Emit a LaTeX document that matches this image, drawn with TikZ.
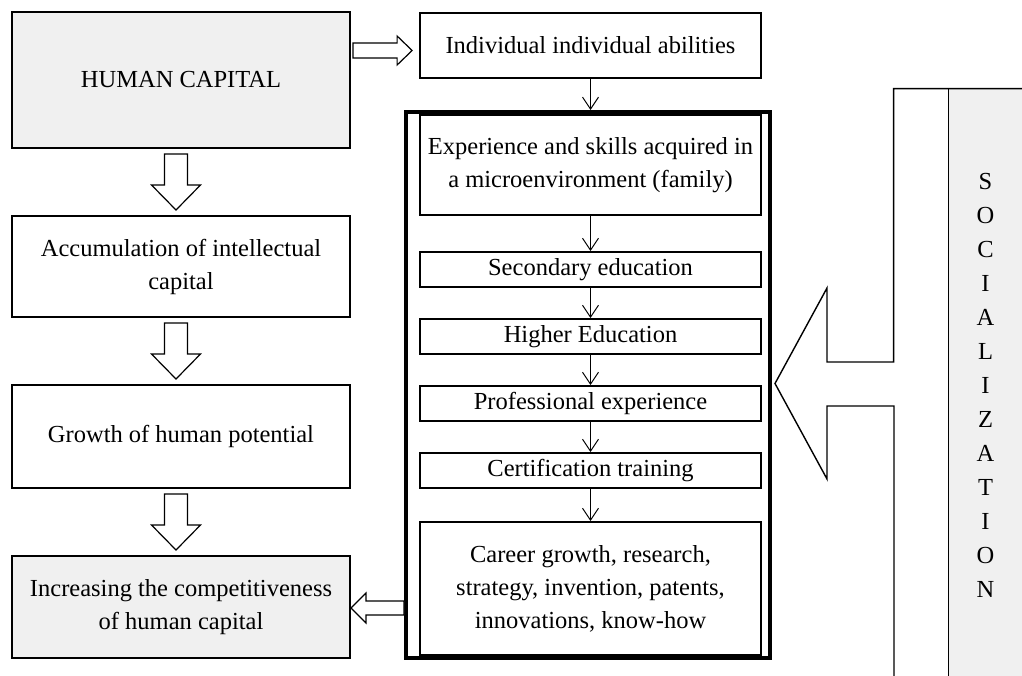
\documentclass[tikz,border=0pt]{standalone}
\usepackage{fontspec}
\setmainfont{Liberation Serif}
\usepackage{tikz}
\usetikzlibrary{arrows.meta,calc}
\definecolor{boxgray}{RGB}{240,240,240}
\newcommand{\diagfont}{\fontsize{12.25}{16.5}\selectfont}
\newcommand{\socfont}{\fontsize{12.25}{17}\selectfont}
\tikzset{
  box/.style={rectangle,draw=black,line width=1pt,fill=white,align=center,
    inner sep=2pt,minimum width=169pt,font=\diagfont},
  graybox/.style={box,fill=boxgray},
  stagebox/.style={box,line width=0.9pt,minimum width=170.5pt},
  bigframe/.style={rectangle,draw=black,line width=2pt,
    minimum width=182pt,minimum height=273pt},
  % thin arrows inside the socialization frame
  flow/.style={-{Straight Barb[length=6pt,width=8pt]},line width=0.5pt},
  blockarr/.style={draw=black,fill=white,line width=0.6pt,line join=miter},
  socline/.style={draw=black,line width=0.7pt},
  soccol/.style={rectangle,fill=boxgray,draw=none,minimum width=36.5pt,
    minimum height=296pt,align=center,inner sep=0pt,font=\socfont}
}
% hollow arrow pointing down from #1 to #2
\newcommand{\blockdown}[2]{%
  \coordinate (bt) at ($(#1.south)+(-5,5)$);
  \coordinate (bb) at ($(#2.north)+(-5,-5)$);
  \draw[blockarr] ($(bt)+(-11.5,0)$) -- ++(23,0) -- ($(bb)+(11.5,-25)$)
    -- ++(13,0) -- (bb) -- ++(-24.5,-25) -- ++(13,0) -- cycle;}

\begin{document}
\begin{tikzpicture}[x=0.5pt,y=-0.5pt]
\useasboundingbox (0,0) rectangle (1022,675);
\clip (0,0) rectangle (1022,675);
% ---------------- left column ----------------
\node[graybox,minimum height=68pt] (hc) at (181,80) {HUMAN CAPITAL};
\node[box,minimum height=50.5pt] (acc) at (181,266.5)
  {Accumulation of intellectual\\capital};
\node[box,minimum height=51.5pt] (grow) at (181,436.5)
  {Growth of human potential};
\node[graybox,minimum height=51pt] (comp) at (181,607)
  {Increasing the competitiveness\\of human capital};
\blockdown{hc}{acc}
\blockdown{acc}{grow}
\blockdown{grow}{comp}
% ---------------- middle column ----------------
\node[stagebox,minimum height=32.5pt] (ind) at (590.5,45.5)
  {Individual individual abilities};
\node[bigframe] (frame) at (588,385) {};
\node[stagebox,minimum height=50pt] (exp) at (590.5,165)
  {Experience and skills acquired in\\a microenvironment (family)};
\node[stagebox,minimum height=17.5pt] (sec) at (590.5,269.5)
  {Secondary education};
\node[stagebox,minimum height=17.5pt] (high) at (590.5,336.5)
  {Higher Education};
\node[stagebox,minimum height=17.5pt] (prof) at (590.5,403.5)
  {Professional experience};
\node[stagebox,minimum height=17.5pt] (cert) at (590.5,470.5)
  {Certification training};
\node[stagebox,minimum height=66.5pt] (car) at (590.5,588.5)
  {Career growth, research,\\strategy, invention, patents,\\innovations, know-how};
\draw[flow] (ind.south) -- (ind.south |- frame.north);
\draw[flow] (exp) -- (sec);
\draw[flow] (sec) -- (high);
\draw[flow] (high) -- (prof);
\draw[flow] (prof) -- (cert);
\draw[flow] (cert) -- (car);
% hollow arrow: human capital -> abilities
\coordinate (rs) at ($(hc.east)+(2,-29.5)$);
\coordinate (rt) at ($(ind.west |- rs)+(-7,0)$);
\draw[blockarr] ($(rs)+(0,-7.5)$) -- ($(rt)+(-15,-7.5)$) -- ++(0,-7) -- (rt)
  -- ++(-15,14.5) -- ++(0,-7) -- ($(rs)+(0,7.5)$) -- cycle;
% hollow arrow: frame -> competitiveness
\coordinate (lt) at ($(comp.east)+(0,1)$);
\coordinate (ls) at (frame.west |- lt);
\draw[blockarr] (lt) -- ++(15,-15) -- ++(0,8) -- ($(ls)+(0,-7)$) -- ++(0,14)
  -- ($(lt)+(15,7)$) -- ++(0,8) -- cycle;
% ---------------- socialization ----------------
\node[soccol] (soc) at (985.5,385)
  {S\\O\\C\\I\\A\\L\\I\\Z\\A\\T\\I\\O\\N};
\coordinate (soctip) at ($(frame.east)+(3,-1.5)$);
\draw[socline] ($(soc.north east)+(20,0)$) -- ($(soc.north west)+(-55,0)$)
  |- ($(soctip)+(52,-21.5)$) -- ++(0,-74) -- (soctip) -- ++(52,95.5)
  -- ++(0,-73) -- ++(67,0) -- ++(0,300);
\draw[socline] (soc.north west) -- ++(0,610);
\end{tikzpicture}
\end{document}
